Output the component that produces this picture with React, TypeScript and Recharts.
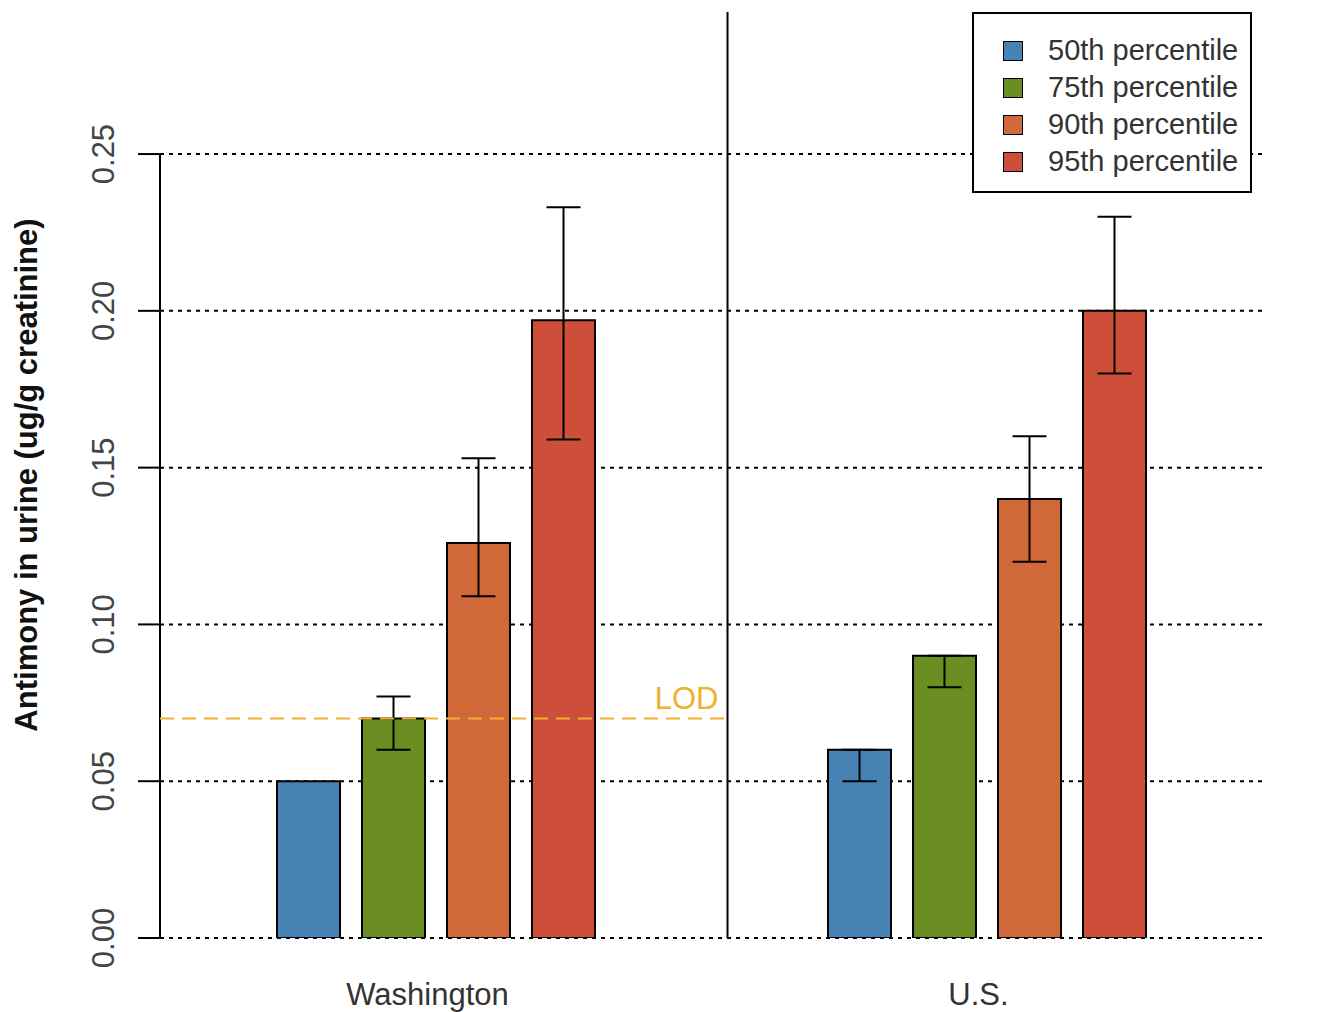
import { BarChart, Bar, XAxis, YAxis, CartesianGrid, ErrorBar, ReferenceLine, Legend } from "recharts"

const REGIONS = ["Washington", "U.S."]

const P50 = [0.05, 0.06]
const P50_LOW = [null, 0.05]
const P50_HIGH = [null, 0.06]

const P75 = [0.07, 0.09]
const P75_LOW = [0.06, 0.08]
const P75_HIGH = [0.077, 0.09]

const P90 = [0.126, 0.14]
const P90_LOW = [0.109, 0.12]
const P90_HIGH = [0.153, 0.16]

const P95 = [0.197, 0.2]
const P95_LOW = [0.159, 0.18]
const P95_HIGH = [0.233, 0.23]

const Y_TICKS = [0, 0.05, 0.1, 0.15, 0.2, 0.25]
const Y_TOP = 0.2953
const LOD = 0.07
// divider between the two groups, on a hidden 0..1 axis
const DIVIDER_X = 0.515

const COLORS = { p50: "#4682B4", p75: "#6B8E23", p90: "#D0683A", p95: "#CD4F39" }
const LOD_COLOR = "#F0B030"
const FONT = "'Liberation Sans', Arial, sans-serif"

function err(v: number, lo: number | null, hi: number | null) {
  if (lo == null || hi == null) return null
  return [v - lo, hi - v]
}

const rows = REGIONS.map((region, i) => ({
  region,
  p50: P50[i], p50Err: err(P50[i], P50_LOW[i], P50_HIGH[i]),
  p75: P75[i], p75Err: err(P75[i], P75_LOW[i], P75_HIGH[i]),
  p90: P90[i], p90Err: err(P90[i], P90_LOW[i], P90_HIGH[i]),
  p95: P95[i], p95Err: err(P95[i], P95_LOW[i], P95_HIGH[i]),
}))

const SERIES = [
  { key: "p50", name: "50th percentile" },
  { key: "p75", name: "75th percentile" },
  { key: "p90", name: "90th percentile" },
  { key: "p95", name: "95th percentile" },
]

function YTick({ x, y, payload }: any) {
  const tx = x - 20
  return (
    <text x={tx} y={y} transform={`rotate(-90, ${tx}, ${y})`} textAnchor="middle" fontSize={31} fill="#444" fontFamily={FONT}>
      {payload.value.toFixed(2)}
    </text>
  )
}

function XTick({ x, y, payload }: any) {
  return (
    <text x={x - 8} y={y + 67} textAnchor="middle" fontSize={31} fill="#333" fontFamily={FONT}>
      {payload.value}
    </text>
  )
}

function YLabel({ viewBox }: any) {
  const cx = viewBox.x + 37
  const cy = viewBox.y + viewBox.height / 2
  return (
    <text x={cx} y={cy} transform={`rotate(-90, ${cx}, ${cy})`} textAnchor="middle" fontSize={31} fontWeight="bold" fill="#111" fontFamily={FONT}>
      Antimony in urine (ug/g creatinine)
    </text>
  )
}

function LegendBox({ payload }: any) {
  return (
    <div style={{ boxSizing: "border-box", width: 280, height: 181, border: "2px solid #000", background: "#fff", padding: "18px 0 0 29px", fontFamily: FONT }}>
      {(payload || []).map((p: any) => (
        <div key={p.value} style={{ display: "flex", alignItems: "center", height: 37 }}>
          <div style={{ width: 18, height: 18, background: p.color, border: "1.5px solid #000" }} />
          <span style={{ marginLeft: 25, fontSize: 29, color: "#333", lineHeight: "37px" }}>{p.value}</span>
        </div>
      ))}
    </div>
  )
}

export default function App() {
  document.body.style.margin = "0"
  return (
    <div style={{ width: 1325, height: 1012, background: "#fff" }}>
      <BarChart width={1325} height={1012} data={rows} margin={{ top: 12, right: 63, bottom: 0, left: 0 }} barGap={22} style={{ fontFamily: FONT }}>
        <CartesianGrid xAxisId="cat" vertical={false} horizontalValues={Y_TICKS} stroke="#000" strokeWidth={2} strokeDasharray="4 5" />
        <XAxis xAxisId="cat" dataKey="region" type="category" axisLine={false} tickLine={false} tickSize={0} tickMargin={0} height={74} tick={<XTick />} />
        <XAxis xAxisId="num" type="number" domain={[0, 1]} ticks={[0, 1]} allowDataOverflow hide />
        <YAxis width={160} domain={[0, Y_TOP]} ticks={Y_TICKS} allowDataOverflow axisLine={false} tickSize={22} tickMargin={4} tickLine={{ stroke: "#000", strokeWidth: 2 }} tick={<YTick />} label={<YLabel />} />
        {SERIES.map((s) => (
          <Bar key={s.key} xAxisId="cat" dataKey={s.key} name={s.name} fill={(COLORS as any)[s.key]} stroke="#000" strokeWidth={2} barSize={63} isAnimationActive={false}>
            <ErrorBar dataKey={`${s.key}Err`} width={17} stroke="#000" strokeWidth={2} direction="y" />
          </Bar>
        ))}
        <ReferenceLine xAxisId="num" segment={[{ x: 0, y: 0 }, { x: 0, y: 0.25 }]} stroke="#000" strokeWidth={2} />
        <ReferenceLine xAxisId="num" x={DIVIDER_X} stroke="#000" strokeWidth={2} ifOverflow="visible" />
        <ReferenceLine xAxisId="num" segment={[{ x: 0, y: LOD }, { x: DIVIDER_X, y: LOD }]} stroke={LOD_COLOR} strokeWidth={2} strokeDasharray="14 8" ifOverflow="visible"
          label={{ value: "LOD", position: "insideBottomRight", offset: 9, fill: LOD_COLOR, fontSize: 31, fontFamily: FONT }} />
        <Legend layout="vertical" align="center" verticalAlign="middle" content={<LegendBox />} wrapperStyle={{ top: 12, left: 972, width: 280, height: 181 }} />
      </BarChart>
    </div>
  )
}
